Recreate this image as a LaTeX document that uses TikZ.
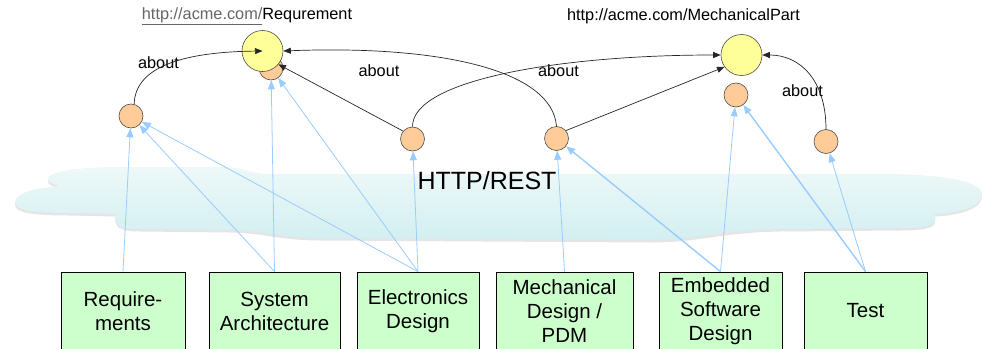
\documentclass[tikz,border=0pt]{standalone}
\usepackage{fontspec}
\setmainfont{Liberation Sans}
\usetikzlibrary{arrows.meta}
\definecolor{toolgreen}{HTML}{CCFFCC}
\definecolor{resyellow}{HTML}{FFFF99}
\definecolor{linkorange}{HTML}{FFCC99}
\definecolor{useblue}{HTML}{99CCFF}
\definecolor{cloudtop}{HTML}{EEF8F8}
\definecolor{cloudbottom}{HTML}{D3EFF1}

\begin{document}
\begin{tikzpicture}[x=1pt,y=-1pt]
\tikzstyle{tool} = [draw=black, fill=toolgreen, line width=0.8pt, minimum height=78pt, align=center, font=\fontsize{20.5}{24}\selectfont]
\tikzstyle{res} = [circle, draw=black!70, fill=resyellow, minimum size=41pt, inner sep=0pt, line width=0.6pt]
\tikzstyle{link} = [circle, draw=black!70, fill=linkorange, minimum size=24pt, inner sep=0pt, line width=0.6pt]
\tikzstyle{freccia} = [-{Triangle[length=7.5pt,width=6pt]}, line width=0.7pt, black!85]
\tikzstyle{uses} = [-{Triangle[length=9pt,width=7pt]}, line width=0.8pt, useblue]
\tikzstyle{annot} = [font=\fontsize{16.3}{18}\selectfont, inner sep=0pt]
\tikzstyle{cloudpath} = [insert path={(15,202) .. controls (15,192) and (38,188) .. (60,186)
  .. controls (35,180) and (45,167) .. (120,167) -- (220,167) .. controls (245,167) and (250,173) .. (265,174)
  -- (880,174) .. controls (960,174) and (982,185) .. (982,194)
  .. controls (982,206) and (960,213) .. (935,214) -- (935,220) .. controls (935,226) and (920,228) .. (900,228)
  -- (780,229) .. controls (720,230) and (700,240) .. (650,240)
  -- (320,238) .. controls (280,238) and (260,230) .. (230,230)
  -- (140,229) .. controls (118,229) and (115,224) .. (115,214)
  -- (70,213) .. controls (30,213) and (15,210) .. (15,202) -- cycle}]
\useasboundingbox (0,0) rectangle (982,348);
\clip (0,0) rectangle (982,348);
\fill[black!10, yshift=-2.5pt, cloudpath];
\shade[top color=cloudtop, bottom color=cloudbottom, cloudpath];
\node[font=\fontsize{25}{28}\selectfont] (rest) at (487,181) {HTTP/REST};
\node[tool, minimum width=124pt] (reqs) at (123,311) {Require-\\ments};
\node[tool, minimum width=131pt] (sys) at (274.5,311) {System\\Architecture};
\node[tool, minimum width=122pt] (elec) at (418,311) {Electronics\\Design};
\node[tool, minimum width=137pt] (mcad) at (564.5,311) {Mechanical\\Design /\\PDM};
\node[tool, minimum width=123pt] (emb) at (720.5,311) {Embedded\\Software\\Design};
\node[tool, minimum width=123pt] (test) at (865.5,311) {Test};
\node[link] (rqa) at (271,68) {};
\node[res] (rq) at (262.5,51) {};
\node[link] (a1) at (131,116) {};
\node[link] (a2) at (412.5,139) {};
\node[link] (a3) at (556.5,138.5) {};
\node[res] (mp) at (741.5,55) {};
\node[link] (a4) at (736,95) {};
\node[link] (a5) at (826,141.5) {};
\node[annot] (rqurl) at (247,16) {{\color{black!60}\underline{http://acme.com/}}Requrement};
\node[annot] (mpurl) at (683.5,16) {http://acme.com/MechanicalPart};
\node[annot] (ab1) at (158.5,63) {about};
\node[annot] (ab2) at (379,71) {about};
\node[annot] (ab3) at (558.5,71) {about};
\node[annot] (ab4) at (802.5,91) {about};
\draw[uses] (reqs.north) -- (a1);
\draw[uses] (sys.north) -- (a1);
\draw[uses] (sys.north) -- (rqa);
\draw[uses] (elec.north) -- (a1);
\draw[uses] (elec.north) -- (rqa);
\draw[uses] (elec.north) -- (a2);
\draw[uses] (mcad.north) -- (a3);
\draw[uses, line width=1.4pt] (emb.north) -- (a3);
\draw[uses] (emb.north) -- (a4);
\draw[uses, line width=1.4pt] (test.north) -- (a4);
\draw[uses] (test.north) -- (a5);
\draw[freccia] (a1.75) .. controls (135,68) and (180,52) .. (rq.center);
\draw[freccia] (a2.140) -- (rq.-40);
\draw[freccia] (a3.north) .. controls (552,70) and (440,45) .. (rq.east);
\draw[freccia] (a2.north) .. controls (412,80) and (560,55) .. (mp.west);
\draw[freccia] (a3.40) -- (mp.-145);
\draw[freccia] (a5.north) .. controls (826,80) and (800,55) .. (mp.east);
\end{tikzpicture}
\end{document}
